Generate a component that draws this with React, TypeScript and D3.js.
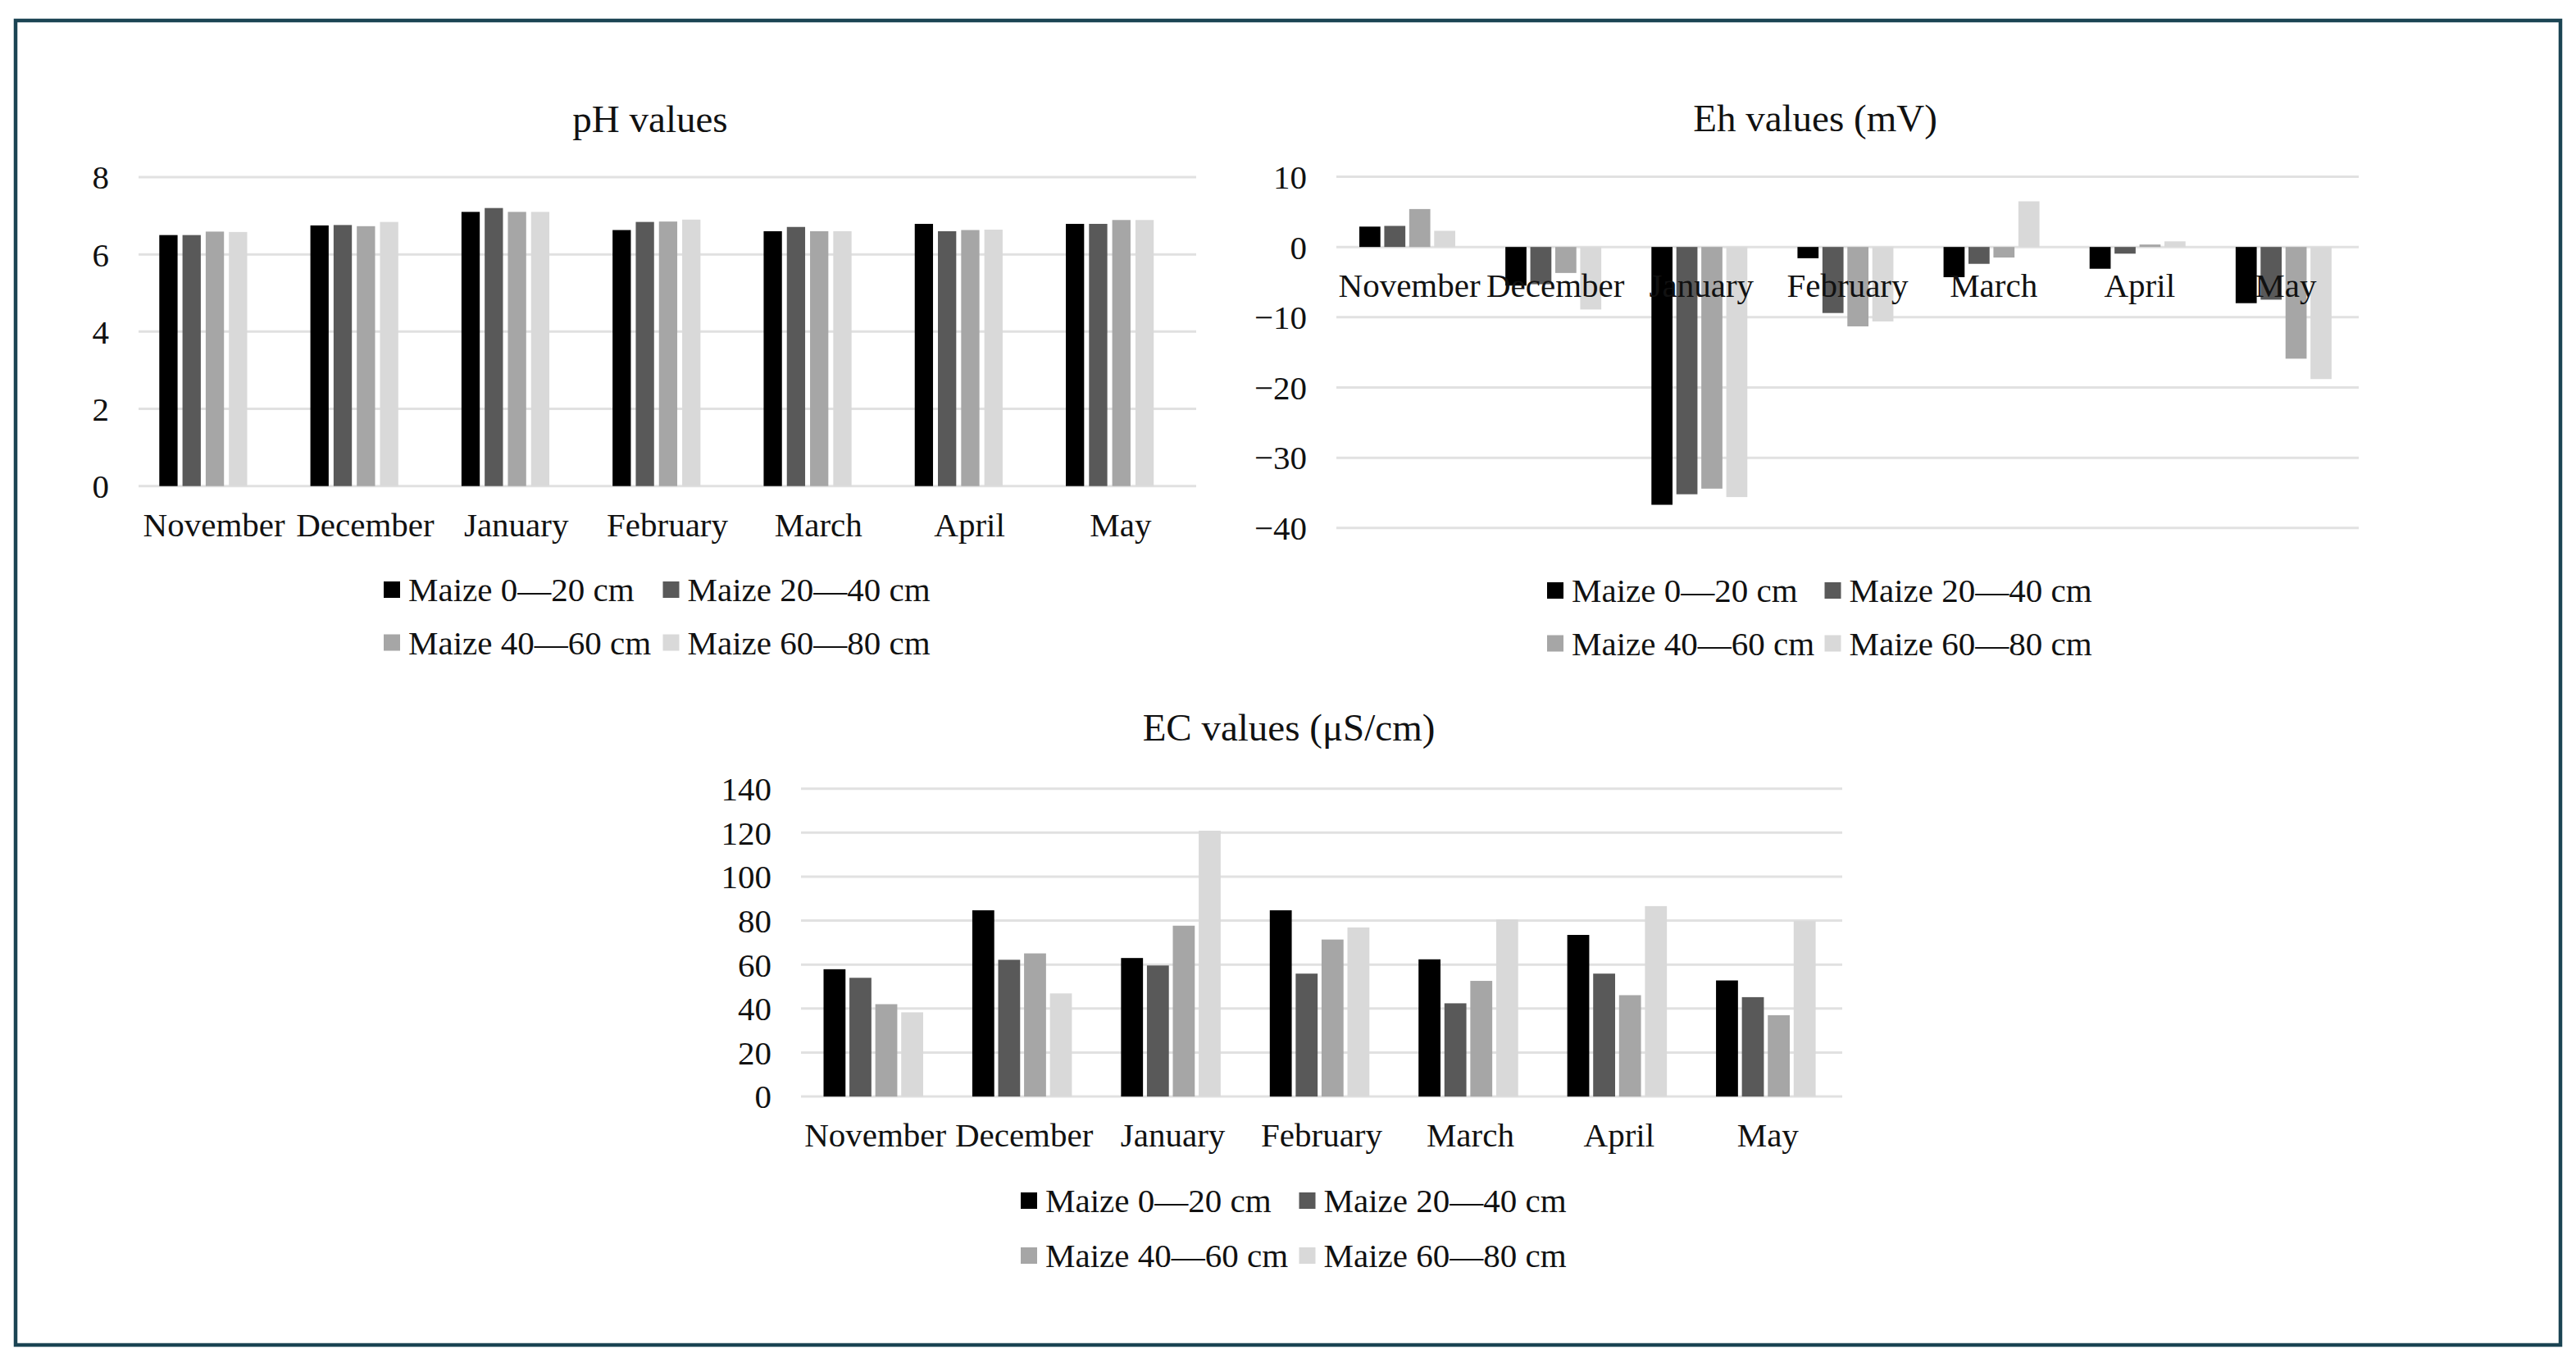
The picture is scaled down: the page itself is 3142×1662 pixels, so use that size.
import { useEffect, useRef } from "react"
import * as d3 from "d3"

// categories and series
const months = ["November", "December", "January", "February", "March", "April", "May"]
const seriesNames = ["Maize 0—20 cm", "Maize 20—40 cm", "Maize 40—60 cm", "Maize 60—80 cm"]

// values, one row per depth
const phValues = [
  [6.5, 6.75, 7.1, 6.63, 6.6, 6.79, 6.79],
  [6.5, 6.76, 7.2, 6.84, 6.71, 6.6, 6.79],
  [6.59, 6.73, 7.1, 6.85, 6.6, 6.63, 6.89],
  [6.58, 6.84, 7.1, 6.9, 6.6, 6.64, 6.89],
]
const ehValues = [
  [2.9, -5.5, -36.7, -1.6, -4.3, -3.1, -8.0],
  [3.0, -5.3, -35.2, -9.4, -2.4, -0.95, -7.5],
  [5.4, -3.7, -34.4, -11.3, -1.5, 0.35, -15.9],
  [2.3, -8.9, -35.6, -10.6, 6.5, 0.8, -18.8],
]
const ecValues = [
  [57.9, 84.7, 63.0, 84.7, 62.4, 73.5, 52.8],
  [54.0, 62.2, 59.6, 55.9, 42.4, 55.9, 45.2],
  [42.0, 65.1, 77.7, 71.4, 52.6, 46.1, 37.0],
  [38.3, 46.9, 120.9, 76.9, 80.6, 86.6, 79.8],
]

// tick values
const phTicks = [0, 2, 4, 6, 8]
const ehTicks = [-40, -30, -20, -10, 0, 10]
const ecTicks = [0, 20, 40, 60, 80, 100, 120, 140]

const barColors = ["#000000", "#595959", "#a6a6a6", "#d9d9d9"]
const FONT = "'Liberation Serif', 'Times New Roman', serif"
const TEXT = "#111111"

type ChartSpec = {
  title: string
  values: number[][]
  ticks: number[]
  domain: [number, number]
  left: number
  right: number
  top: number
  bottom: number
  groupRange: [number, number]
  barPadding: number
  titleX: number
  titleY: number
  legendX: [number, number]
  legendY: [number, number]
}

const charts: ChartSpec[] = [
  {
    title: "pH values",
    values: phValues,
    ticks: phTicks,
    domain: [0, 8],
    left: 169, right: 1459, top: 216, bottom: 592.7,
    groupRange: [25.3, 132.5],
    barPadding: 0.212,
    titleX: 793, titleY: 161,
    legendX: [468, 808.5],
    legendY: [719, 783.5],
  },
  {
    title: "Eh values (mV)",
    values: ehValues,
    ticks: ehTicks,
    domain: [-40, 10],
    left: 1630, right: 2877, top: 215.5, bottom: 643.8,
    groupRange: [28, 145],
    barPadding: 0.155,
    titleX: 2214, titleY: 160,
    legendX: [1887, 2225.5],
    legendY: [720, 784.5],
  },
  {
    title: "EC values (μS/cm)",
    values: ecValues,
    ticks: ecTicks,
    domain: [0, 140],
    left: 977, right: 2247, top: 961.7, bottom: 1337.1,
    groupRange: [27.5, 149],
    barPadding: 0.152,
    titleX: 1572, titleY: 903,
    legendX: [1245, 1584.5],
    legendY: [1464, 1531],
  },
]

const fmtTick = (d: number) => (d < 0 ? "−" + Math.abs(d) : String(d))

function drawChart(svg: d3.Selection<SVGSVGElement, unknown, null, undefined>, spec: ChartSpec) {
  const g = svg.append("g")

  const x0 = d3.scaleBand<string>().domain(months).range([spec.left, spec.right])
  const x1 = d3.scaleBand<string>()
    .domain(seriesNames)
    .range(spec.groupRange)
    .paddingInner(spec.barPadding)
  const y = d3.scaleLinear().domain(spec.domain).range([spec.bottom, spec.top])

  // gridlines (zero line looks the same)
  g.append("g")
    .selectAll("line")
    .data(spec.ticks)
    .join("line")
    .attr("x1", spec.left)
    .attr("x2", spec.right)
    .attr("y1", d => y(d))
    .attr("y2", d => y(d))
    .attr("stroke", "#e1e1e1")
    .attr("stroke-width", 3)

  // y tick labels
  g.append("g")
    .selectAll("text")
    .data(spec.ticks)
    .join("text")
    .attr("x", spec.left - 36)
    .attr("y", d => y(d))
    .attr("dy", "0.35em")
    .attr("text-anchor", "end")
    .style("font-family", FONT)
    .style("font-size", "41px")
    .style("fill", TEXT)
    .text(fmtTick)

  // bars
  const groups = months.map((m, i) =>
    seriesNames.map((s, j) => ({ month: m, series: s, idx: j, value: spec.values[j][i] }))
  )
  g.append("g")
    .selectAll("g")
    .data(groups)
    .join("g")
    .attr("transform", (_d, i) => `translate(${x0(months[i])},0)`)
    .selectAll("rect")
    .data(d => d)
    .join("rect")
    .attr("x", d => x1(d.series)!)
    .attr("width", x1.bandwidth())
    .attr("y", d => y(Math.max(0, d.value)))
    .attr("height", d => Math.abs(y(d.value) - y(0)))
    .attr("fill", d => barColors[d.idx])

  // category labels sit just under the zero line
  g.append("g")
    .selectAll("text")
    .data(months)
    .join("text")
    .attr("x", d => x0(d)! + x0.bandwidth() / 2)
    .attr("y", y(0) + 61)
    .attr("text-anchor", "middle")
    .style("font-family", FONT)
    .style("font-size", "41px")
    .style("fill", TEXT)
    .text(d => d)

  // title
  g.append("text")
    .attr("x", spec.titleX)
    .attr("y", spec.titleY)
    .attr("text-anchor", "middle")
    .style("font-family", FONT)
    .style("font-size", "47px")
    .style("fill", TEXT)
    .text(spec.title)

  // legend, two by two
  const legend = g.append("g")
  seriesNames.forEach((name, i) => {
    const lx = spec.legendX[i % 2]
    const ly = spec.legendY[Math.floor(i / 2)]
    const item = legend.append("g").attr("transform", `translate(${lx},${ly})`)
    item.append("rect")
      .attr("x", 0)
      .attr("y", -10)
      .attr("width", 20)
      .attr("height", 20)
      .attr("fill", barColors[i])
    item.append("text")
      .attr("x", 30)
      .attr("y", 0)
      .attr("dy", "0.35em")
      .style("font-family", FONT)
      .style("font-size", "41px")
      .style("fill", TEXT)
      .text(name)
  })
}

export default function App() {
  const svgRef = useRef<SVGSVGElement>(null)

  useEffect(() => {
    if (!svgRef.current) return
    const svg = d3.select(svgRef.current)
    svg.selectAll("*").remove()

    svg.append("rect")
      .attr("width", 3142)
      .attr("height", 1662)
      .attr("fill", "#ffffff")

    // dark frame around the whole figure
    svg.append("rect")
      .attr("x", 19)
      .attr("y", 25)
      .attr("width", 3104)
      .attr("height", 1615)
      .attr("fill", "none")
      .attr("stroke", "#1b4453")
      .attr("stroke-width", 4.5)

    charts.forEach(spec => drawChart(svg, spec))
  }, [])

  return (
    <svg
      ref={svgRef}
      width={3142}
      height={1662}
      style={{ position: "absolute", left: 0, top: 0, display: "block" }}
    />
  )
}
